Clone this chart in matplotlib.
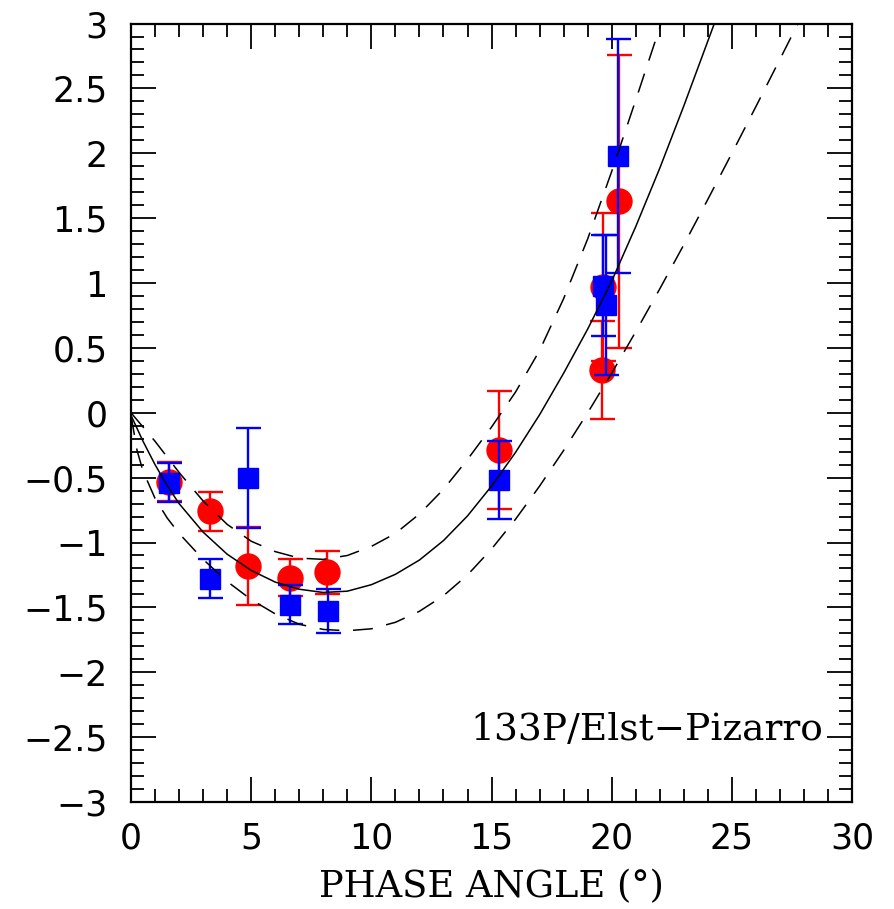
import matplotlib
matplotlib.use("Agg")
import matplotlib.pyplot as plt
from matplotlib.ticker import MultipleLocator

# --- measured points (phase angle in deg) ---
red_x   = [1.6, 3.3, 4.85, 6.62, 8.17, 15.3, 19.6, 19.64, 20.3]
red_y   = [-0.53, -0.76, -1.18, -1.27, -1.23, -0.29, 0.33, 0.97, 1.63]
red_err = [0.15, 0.15, 0.30, 0.14, 0.165, 0.455, 0.38, 0.57, 1.13]

blue_x   = [1.6, 3.3, 4.85, 6.62, 8.2, 15.3, 19.64, 19.77, 20.27]
blue_y   = [-0.54, -1.28, -0.50, -1.48, -1.53, -0.52, 0.98, 0.83, 1.98]
blue_err = [0.15, 0.15, 0.385, 0.15, 0.17, 0.30, 0.39, 0.54, 0.90]

# --- fit curves ---
fit_x = [0, 0.5, 1, 1.5, 2, 3, 4, 5, 6, 7, 8, 9, 10, 11, 12, 13, 14,
         15, 16, 17, 18, 19, 20, 21, 22, 23, 24, 24.27]
fit_y = [-0.02, -0.22, -0.40, -0.56, -0.70, -0.92, -1.09, -1.215, -1.305, -1.36,
         -1.385, -1.375, -1.325, -1.245, -1.135, -0.985, -0.795, -0.565, -0.305,
         -0.015, 0.305, 0.645, 1.015, 1.435, 1.885, 2.365, 2.865, 3.0]

hi_x = [0, 1, 2, 3, 4, 5, 6, 7, 8, 9, 10, 11, 12, 13, 14, 15, 16, 17,
        18, 19, 20, 21, 22, 22.05]
hi_y = [0.0, -0.22, -0.46, -0.68, -0.86, -0.99, -1.07, -1.12, -1.13, -1.10,
        -1.03, -0.93, -0.78, -0.59, -0.36, -0.11, 0.16, 0.48, 0.88, 1.34,
        1.86, 2.41, 2.97, 3.0]

lo_x = [0, 0.25, 0.5, 1, 1.5, 2, 3, 4, 5, 6, 7, 8, 9, 10, 11, 12, 13, 14,
        15, 16, 17, 18, 19, 20, 21, 22, 23, 24, 25, 26, 27, 27.75]
lo_y = [-0.02, -0.29, -0.45, -0.66, -0.81, -0.93, -1.13, -1.30, -1.44, -1.55,
        -1.63, -1.67, -1.68, -1.665, -1.615, -1.53, -1.41, -1.25, -1.05, -0.82,
        -0.565, -0.29, 0.0, 0.305, 0.625, 0.955, 1.295, 1.645, 2.0, 2.36, 2.725, 3.0]

fig = plt.figure(figsize=(8.95, 9.09), dpi=100)
ax = fig.add_axes([0.1464, 0.1177, 0.8056, 0.8564])

ax.errorbar(red_x, red_y, yerr=red_err, fmt="o", color="#ff0000", ms=18,
            elinewidth=1.7, capsize=9, capthick=1.7, zorder=2)
ax.errorbar(blue_x, blue_y, yerr=blue_err, fmt="s", color="#0000ff", ms=14,
            elinewidth=1.7, capsize=9, capthick=1.7, zorder=3)

ax.plot(fit_x, fit_y, color="black", lw=1.1, zorder=4)
ax.plot(hi_x, hi_y, color="black", lw=1.1, dashes=(13, 9), zorder=4)
ax.plot(lo_x, lo_y, color="black", lw=1.1, dashes=(13, 9), zorder=4)

ax.set_xlim(0, 30)
ax.set_ylim(-3, 3)
ax.xaxis.set_major_locator(MultipleLocator(5))
ax.xaxis.set_minor_locator(MultipleLocator(1))
ax.yaxis.set_minor_locator(MultipleLocator(0.1))
ax.set_yticks([-3, -2.5, -2, -1.5, -1, -0.5, 0, 0.5, 1, 1.5, 2, 2.5, 3])
ax.set_yticklabels(["\u22123", "\u22122.5", "\u22122", "\u22121.5", "\u22121", "\u22120.5",
                    "0", "0.5", "1", "1.5", "2", "2.5", "3"])

ax.tick_params(which="both", direction="in", top=True, right=True, width=1.3,
               labelsize=25)
ax.tick_params(which="major", length=18)
ax.tick_params(which="minor", length=9.5)
ax.tick_params(axis="y", which="major", pad=17)
ax.tick_params(axis="x", which="major", pad=14)
for s in ax.spines.values():
    s.set_linewidth(1.6)

ax.text(28.8, -2.52, "133P/Elst\u2212Pizarro", family="DejaVu Serif",
        fontsize=27, ha="right", va="baseline")
ax.set_xlabel("PHASE ANGLE (\u00b0)", family="DejaVu Serif", fontsize=26.5, labelpad=10)

fig.savefig("out.png", dpi=100)
